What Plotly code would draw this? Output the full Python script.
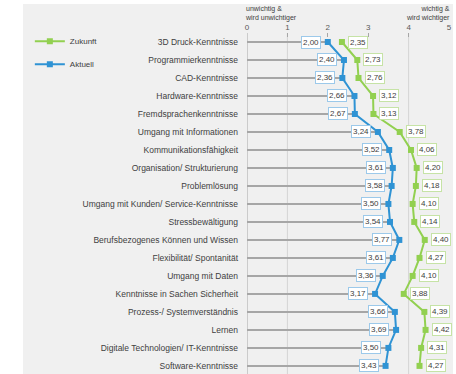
import plotly.graph_objects as go

categories = [
    "3D Druck-Kenntnisse",
    "Programmierkenntnisse",
    "CAD-Kenntnisse",
    "Hardware-Kenntnisse",
    "Fremdsprachenkenntnisse",
    "Umgang mit Informationen",
    "Kommunikationsfähigkeit",
    "Organisation/ Strukturierung",
    "Problemlösung",
    "Umgang mit Kunden/ Service-Kenntnisse",
    "Stressbewältigung",
    "Berufsbezogenes Können und Wissen",
    "Flexibilität/ Spontanität",
    "Umgang mit Daten",
    "Kenntnisse in Sachen Sicherheit",
    "Prozess-/ Systemverständnis",
    "Lernen",
    "Digitale Technologien/ IT-Kenntnisse",
    "Software-Kenntnisse",
]
aktuell = [2.00, 2.40, 2.36, 2.66, 2.67, 3.24, 3.52, 3.61, 3.58, 3.50,
           3.54, 3.77, 3.61, 3.36, 3.17, 3.66, 3.69, 3.50, 3.43]
zukunft = [2.35, 2.73, 2.76, 3.12, 3.13, 3.78, 4.06, 4.20, 4.18, 4.10,
           4.14, 4.40, 4.27, 4.10, 3.88, 4.39, 4.42, 4.31, 4.27]
x_ticks = [0, 1, 2, 3, 4, 5]
grid_at = [1, 4]

BLUE = "#2f93d4"
GREEN = "#92d050"
FONT = "Liberation Sans, Arial, sans-serif"

idx = list(range(len(categories)))

def fmt(v):
    return f"{v:.2f}".replace(".", ",")

fig = go.Figure()

# thin grey stems from 0 to current value
fig.add_trace(go.Bar(
    x=aktuell, y=idx, orientation="h", width=0.08,
    marker=dict(color="#a6a6a6", line=dict(width=0)),
    showlegend=False, hoverinfo="skip",
))

fig.add_trace(go.Scatter(
    x=zukunft, y=idx, mode="lines+markers", name="Zukunft",
    line=dict(color=GREEN, width=2),
    marker=dict(symbol="square", size=6, color=GREEN),
    legendgroup="z",
))
fig.add_trace(go.Scatter(
    x=aktuell, y=idx, mode="lines+markers", name="Aktuell",
    line=dict(color=BLUE, width=2),
    marker=dict(symbol="square", size=6, color=BLUE),
    legendgroup="a",
))

annotations = []
for i, (a, z) in enumerate(zip(aktuell, zukunft)):
    annotations.append(dict(
        x=a, y=i, xref="x", yref="y", text=fmt(a), showarrow=False,
        xanchor="right", xshift=-7, font=dict(size=8, color="#404040", family=FONT),
        bgcolor="white", bordercolor="#9cc9ea", borderwidth=1, borderpad=1,
    ))
    annotations.append(dict(
        x=z, y=i, xref="x", yref="y", text=fmt(z), showarrow=False,
        xanchor="left", xshift=6, font=dict(size=8, color="#404040", family=FONT),
        bgcolor="white", bordercolor="#c6e3a6", borderwidth=1, borderpad=1,
    ))

annotations.append(dict(
    x=0, y=1.056, xref="x", yref="paper", text="unwichtig &<br>wird unwichtiger",
    showarrow=False, xanchor="left", yanchor="middle", align="left",
    xshift=-4, font=dict(size=7, color="#404040", family=FONT),
))
annotations.append(dict(
    x=5, y=1.056, xref="x", yref="paper", text="wichtig &<br>wird wichtiger",
    showarrow=False, xanchor="right", yanchor="middle", align="right",
    xshift=3, font=dict(size=7, color="#404040", family=FONT),
))

shapes = [dict(
    type="rect", xref="paper", yref="paper", x0=-1.109, x1=1.02, y0=-0.02, y1=1.085,
    fillcolor="#f0f0f0", line=dict(width=0), layer="below",
)]
for g in grid_at:
    shapes.append(dict(type="line", xref="x", yref="paper", x0=g, x1=g, y0=0, y1=1,
                       line=dict(color="#d4d4d4", width=1), layer="below"))
shapes.append(dict(type="line", xref="x", yref="paper", x0=0, x1=0, y0=0, y1=1,
                   line=dict(color="#a6a6a6", width=1), layer="below"))

fig.update_layout(
    width=456, height=374,
    margin=dict(l=247, r=7, t=33, b=0),
    paper_bgcolor="white", plot_bgcolor="rgba(0,0,0,0)",
    font=dict(family=FONT, color="#404040"),
    bargap=0,
    xaxis=dict(
        range=[0, 5], side="top", tickvals=x_ticks, showgrid=False, zeroline=False,
        showline=False, ticks="inside", ticklen=4, tickcolor="#a6a6a6",
        tickfont=dict(size=8, color="#595959"),
    ),
    yaxis=dict(
        range=[18.45, -0.5], tickvals=idx, ticktext=categories, showgrid=False,
        zeroline=False, showline=False, ticks="", ticklabelstandoff=8,
        tickfont=dict(size=8.5, color="#404040"),
    ),
    legend=dict(
        x=-1.075, y=1.018, xanchor="left", yanchor="top",
        font=dict(size=8, color="#404040"), bgcolor="rgba(0,0,0,0)",
        traceorder="grouped", tracegroupgap=4, itemwidth=30,
    ),
    annotations=annotations,
    shapes=shapes,
)

fig.write_html("out.html")
